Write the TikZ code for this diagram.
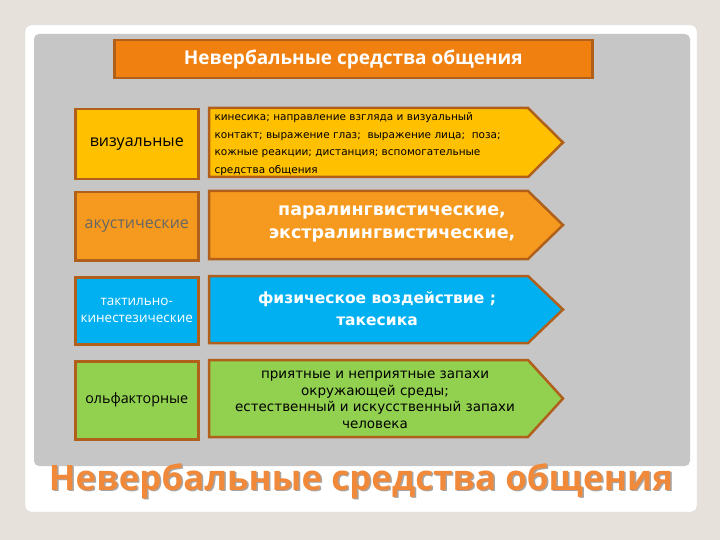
\documentclass[tikz,border=0pt]{standalone}
\usepackage{fontspec}
\setmainfont{DejaVu Sans}
\newfontfamily\os{Open Sans}
\begin{document}
\begin{tikzpicture}[x=1pt,y=-1pt,
 lbox/.style={draw=brdr,line width=2.5pt,inner sep=0pt,align=center},
 abody/.style={draw=brdr,line width=2.5pt,line join=miter}]
\definecolor{bg}{HTML}{E6E1DA}
\definecolor{panel}{HTML}{C6C6C6}
\definecolor{brdr}{HTML}{B0601A}
\definecolor{org}{HTML}{F08010}
\definecolor{org2}{HTML}{F59A1E}
\definecolor{yel}{HTML}{FFC000}
\definecolor{blu}{HTML}{00B0F0}
\definecolor{grn}{HTML}{92D050}
\definecolor{big}{HTML}{F08A3A}
\fill[bg] (0,0) rectangle (720,540);
\useasboundingbox (0,0) rectangle (720,540);
\fill[white,draw=black!15,rounded corners=6pt] (25,25) rectangle (697,512);
\fill[panel,rounded corners=5pt] (34,34) rectangle (690,466);
\node[lbox,fill=org,minimum width=478pt,minimum height=38pt,anchor=north west,text=white,font=\os\bfseries\fontsize{19}{22}\selectfont] (title) at (113,39) {Невербальные средства общения};
% row 1
\node[lbox,fill=yel,minimum width=123pt,minimum height=70pt,anchor=north west,font=\os\fontsize{16}{18}\selectfont] (l1) at (74,108) {визуальные};
\draw[abody,fill=yel] (209,108) -- (528,108) -- (563,142.5) -- (528,177) -- (209,177) -- cycle;
\node[anchor=west,align=left,font=\fontsize{10.5}{17.5}\selectfont] (r1) at (211,144) {кинесика; направление взгляда и визуальный\\контакт; выражение глаз;\ \ выражение лица;\ \ поза;\\кожные реакции; дистанция; вспомогательные\\средства общения};
% row 2
\node[lbox,fill=org2,minimum width=123pt,minimum height=68pt,anchor=north west,text=black!60,font=\os\fontsize{16}{18}\selectfont] (l2) at (74,191) {акустические};
\draw[abody,fill=org2] (209,191) -- (528,191) -- (563,225) -- (528,259) -- (209,259) -- cycle;
\node[align=center,text=white,font=\bfseries\fontsize{17.5}{23}\selectfont] (r2) at (392,224) {паралингвистические,\\экстралингвистические,};
% row 3
\node[lbox,fill=blu,minimum width=123pt,minimum height=67pt,anchor=north west,text=white,font=\os\fontsize{13.5}{17}\selectfont] (l3) at (74,276) {тактильно-\\кинестезические};
\draw[abody,fill=blu] (209,276) -- (528,276) -- (563,309.5) -- (528,343) -- (209,343) -- cycle;
\node[align=center,text=white,font=\bfseries\fontsize{15.5}{22}\selectfont] (r3) at (377,309) {физическое воздействие ;\\такесика};
% row 4
\node[lbox,fill=grn,minimum width=123pt,minimum height=78pt,anchor=north west,font=\os\fontsize{14.3}{16}\selectfont] (l4) at (74,360) {ольфакторные};
\draw[abody,fill=grn] (209,360) -- (528,360) -- (563,398.5) -- (528,437) -- (209,437) -- cycle;
\node[align=center,font=\fontsize{13.5}{16.5}\selectfont] (r4) at (375,400) {приятные и неприятные запахи\\окружающей среды;\\естественный и искусственный запахи\\человека};
% big caption
\node[text=black!35,font=\os\bfseries\fontsize{35}{40}\selectfont] at (362.5,482.5) {Невербальные средства общения};
\node[text=big,font=\os\bfseries\fontsize{35}{40}\selectfont] (cap) at (361,481) {Невербальные средства общения};
\end{tikzpicture}
\end{document}
